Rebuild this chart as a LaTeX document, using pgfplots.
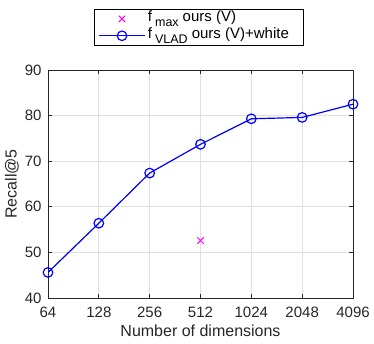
\documentclass[border=0pt]{standalone}
\usepackage{pgfplots}
\pgfplotsset{compat=1.18}
\usepackage{fontspec}
\setmainfont{Liberation Sans}
\definecolor{mblue}{RGB}{0,0,255}
\definecolor{mmag}{RGB}{255,0,255}
\definecolor{txtgray}{RGB}{38,38,38}
\newcommand{\sub}[1]{\hspace{3pt}\raisebox{-4.5pt}{\fontsize{12.5}{14}\selectfont #1}\hspace{4pt}}

\begin{document}
\begin{tikzpicture}
\begin{axis}[
    name=ax,
    scale only axis,
    width=305pt,
    height=228pt,
    xmin=0, xmax=6,
    ymin=40, ymax=90,
    xtick={0,1,2,3,4,5,6},
    xticklabels={64,128,256,512,1024,2048,4096},
    ytick={40,50,60,70,80,90},
    grid=major,
    grid style={draw=black!12, line width=0.7pt},
    tick align=inside,
    major tick length=4pt,
    axis line style={draw=txtgray, line width=0.7pt},
    every tick/.style={draw=txtgray, line width=0.7pt},
    tick label style={font=\fontsize{15}{17}\selectfont, text=txtgray},
    xticklabel style={yshift=-5pt},
    yticklabel style={xshift=-3pt},
    /pgf/number format/assume math mode=true,
    xlabel={Number of dimensions},
    ylabel={Recall@5},
    label style={font=\fontsize{16}{18}\selectfont, text=txtgray},
    xlabel style={yshift=-1pt},
    ylabel style={yshift=-1pt},
    legend style={
        at={(0.4934,1.105)}, anchor=south,
        font=\fontsize{15}{17}\selectfont,
        draw=black, line width=0.7pt,
        legend cell align=left,
        inner xsep=4pt, inner ysep=0pt,
        row sep=-3pt,
        nodes={text depth=5pt},
    },
]
\addplot[only marks, mark=x, mark size=4.5pt, color=mmag, line width=1pt,
    legend image code/.code={\draw[only marks, mark=x, mark size=4.5pt, color=mmag, line width=1pt] plot coordinates {(0.82cm,0cm)};}]
    coordinates {(3,52.6)};
\addlegendentry{f\sub{max}ours (V)}
\addplot[color=mblue, line width=1.2pt, mark=o, mark size=4.8pt,
    legend image code/.code={
        \draw[color=mblue, line width=1.2pt] (0cm,0cm) -- (1.64cm,0cm);
        \draw[color=mblue, line width=1.2pt] (0.82cm,0cm) circle (4.8pt);}]
    coordinates {
    (0,45.6) (1,56.4) (2,67.4) (3,73.7) (4,79.3) (5,79.6) (6,82.5)
};
\addlegendentry{f\sub{VLAD}ours (V)+white\hspace*{8pt}}
\end{axis}
\pgfresetboundingbox
\path ([shift={(-48pt,-46pt)}]ax.south west) rectangle ([shift={(21pt,70pt)}]ax.north east);
\end{tikzpicture}
\end{document}
